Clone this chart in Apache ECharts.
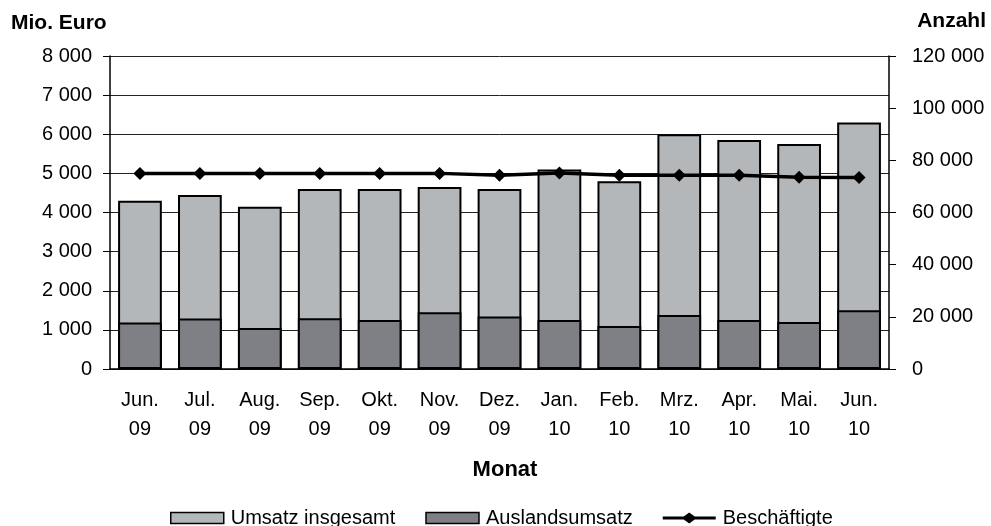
<!DOCTYPE html>
<html><head><meta charset="utf-8">
<script src="https://cdn.jsdelivr.net/npm/echarts@6/dist/echarts.min.js"></script>
<style>html,body{margin:0;padding:0;background:#fff}#c{width:991px;height:526px}</style>
</head><body><div id="c"></div>
<script>
const categories = ["Jun.\n09","Jul.\n09","Aug.\n09","Sep.\n09","Okt.\n09","Nov.\n09","Dez.\n09","Jan.\n10","Feb.\n10","Mrz.\n10","Apr.\n10","Mai.\n10","Jun.\n10"];
const umsatzInsgesamt = [4300,4450,4150,4600,4600,4650,4600,5100,4800,6000,5850,5750,6300];
const auslandsumsatz = [1190,1290,1050,1300,1250,1450,1340,1250,1100,1380,1250,1200,1500];
const beschaeftigte = [75000,75000,75000,75000,75000,75000,74300,75100,74300,74300,74300,73500,73400];

const fmt = v => String(v).replace(/\B(?=(\d{3})+(?!\d))/g, ' ');
const F = 'Liberation Sans, Arial, sans-serif';
const chart = echarts.init(document.getElementById('c'), null, {renderer:'canvas'});
chart.setOption({
  animation:false,
  grid:{left:110,right:102,top:56,bottom:157},
  graphic:[
    {type:'text',x:11,y:23,style:{text:'Mio. Euro',font:'bold 21px '+F,fill:'#000',textAlign:'left',textVerticalAlign:'middle'}},
    {type:'text',x:986,y:21,style:{text:'Anzahl',font:'bold 21px '+F,fill:'#000',textAlign:'right',textVerticalAlign:'middle'}},
    {type:'text',x:505,y:470,style:{text:'Monat',font:'bold 22px '+F,fill:'#000',textAlign:'center',textVerticalAlign:'middle'}}
  ],
  legend:{
    top:508,left:170,padding:0,itemWidth:53,itemHeight:11,itemGap:30,
    textStyle:{fontFamily:F,fontSize:20,color:'#000',padding:[0,0,0,2]},
    data:[
      {name:'Umsatz insgesamt',icon:'rect',itemStyle:{color:'#b4b7ba',borderColor:'#000',borderWidth:1.5}},
      {name:'Auslandsumsatz',icon:'rect',itemStyle:{color:'#7f8085',borderColor:'#000',borderWidth:1.5}},
      {name:'Beschäftigte',icon:'path://M0,4 L21,4 L26.5,0 L32,4 L53,4 L53,7 L32,7 L26.5,11 L21,7 L0,7 Z',itemStyle:{color:'#000',borderWidth:0}}
    ]
  },
  xAxis:{
    type:'category',data:categories,
    axisLine:{lineStyle:{color:'#000',width:1.5}},
    axisTick:{show:false},
    axisLabel:{fontFamily:F,fontSize:20,color:'#000',lineHeight:29,margin:17}
  },
  yAxis:[
    {type:'value',min:0,max:8000,interval:1000,
     axisLine:{show:true,lineStyle:{color:'#000',width:1.5}},
     axisTick:{show:true,length:7,lineStyle:{color:'#000'}},
     splitLine:{lineStyle:{color:'#222',width:1}},
     axisLabel:{fontFamily:F,fontSize:20,color:'#000',margin:18,formatter:v=>fmt(v)}},
    {type:'value',min:0,max:120000,interval:20000,position:'right',
     axisLine:{show:true,lineStyle:{color:'#000',width:1.5}},
     axisTick:{show:true,length:7,lineStyle:{color:'#000'}},
     splitLine:{show:false},
     axisLabel:{fontFamily:F,fontSize:20,color:'#000',margin:23,formatter:v=>fmt(v)}}
  ],
  series:[
    {name:'Umsatz insgesamt',type:'bar',data:umsatzInsgesamt,barWidth:'73%',barGap:'-100%',
     itemStyle:{color:'#b4b7ba',borderColor:'#000',borderWidth:2}},
    {name:'Auslandsumsatz',type:'bar',data:auslandsumsatz,barWidth:'73%',
     itemStyle:{color:'#7f8085',borderColor:'#000',borderWidth:2}},
    {name:'Beschäftigte',type:'line',yAxisIndex:1,data:beschaeftigte,symbol:'diamond',symbolSize:13,
     lineStyle:{color:'#000',width:3.5},itemStyle:{color:'#000'},z:5}
  ]
});
</script></body></html>
